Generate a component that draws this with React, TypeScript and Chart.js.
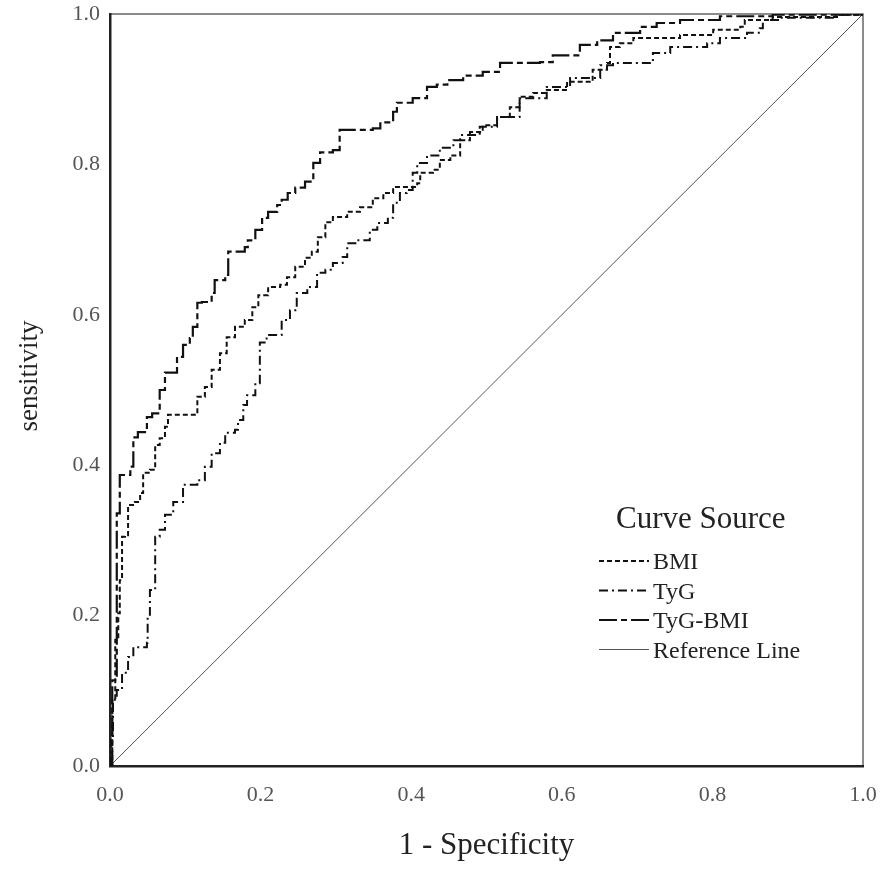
import { useEffect, useRef } from 'react';
import { Chart, registerables } from 'chart.js';

Chart.register(...registerables);

// ROC curves (x = 1 - specificity, y = sensitivity)
const seriesNames = ['BMI', 'TyG', 'TyG-BMI', 'Reference Line'];
const axisTicks = ['0.0', '0.2', '0.4', '0.6', '0.8', '1.0'];

const bmiFpr = [0, 0.003, 0.007, 0.011, 0.013, 0.016, 0.02, 0.024, 0.033, 0.04, 0.044, 0.053, 0.06, 0.066, 0.073, 0.077, 0.116, 0.126, 0.135, 0.146, 0.155, 0.166, 0.179, 0.189, 0.197, 0.21, 0.226, 0.235, 0.246, 0.259, 0.268, 0.276, 0.286, 0.296, 0.315, 0.332, 0.349, 0.363, 0.376, 0.408, 0.412, 0.429, 0.438, 0.452, 0.465, 0.478, 0.495, 0.514, 0.531, 0.544, 0.562, 0.58, 0.607, 0.641, 0.66, 0.664, 0.677, 0.695, 0.757, 0.801, 0.837, 0.843, 0.88, 0.969, 1];
const bmiTpr = [0, 0.088, 0.168, 0.203, 0.247, 0.305, 0.307, 0.347, 0.351, 0.363, 0.39, 0.394, 0.427, 0.436, 0.451, 0.467, 0.491, 0.504, 0.527, 0.549, 0.57, 0.584, 0.593, 0.61, 0.626, 0.637, 0.64, 0.65, 0.664, 0.676, 0.684, 0.703, 0.723, 0.73, 0.737, 0.743, 0.755, 0.762, 0.77, 0.775, 0.789, 0.793, 0.806, 0.812, 0.832, 0.843, 0.852, 0.863, 0.876, 0.89, 0.895, 0.899, 0.91, 0.926, 0.935, 0.956, 0.961, 0.968, 0.972, 0.979, 0.983, 0.992, 0.996, 0.999, 1];

const tygFpr = [0, 0.001, 0.004, 0.009, 0.016, 0.024, 0.031, 0.049, 0.05, 0.053, 0.06, 0.066, 0.073, 0.084, 0.097, 0.116, 0.126, 0.135, 0.146, 0.153, 0.166, 0.17, 0.177, 0.182, 0.193, 0.199, 0.208, 0.228, 0.239, 0.248, 0.262, 0.275, 0.286, 0.296, 0.309, 0.315, 0.328, 0.345, 0.355, 0.369, 0.376, 0.385, 0.394, 0.402, 0.408, 0.421, 0.438, 0.456, 0.465, 0.491, 0.514, 0.544, 0.58, 0.611, 0.651, 0.668, 0.721, 0.744, 0.793, 0.81, 0.846, 0.863, 0.867, 0.89, 0.96, 1];
const tygTpr = [0, 0.035, 0.088, 0.101, 0.124, 0.145, 0.158, 0.164, 0.201, 0.234, 0.305, 0.314, 0.334, 0.351, 0.374, 0.38, 0.398, 0.416, 0.43, 0.443, 0.447, 0.46, 0.48, 0.493, 0.509, 0.563, 0.573, 0.593, 0.606, 0.629, 0.637, 0.656, 0.66, 0.669, 0.677, 0.695, 0.699, 0.713, 0.722, 0.729, 0.749, 0.762, 0.766, 0.789, 0.802, 0.812, 0.822, 0.832, 0.839, 0.85, 0.863, 0.888, 0.903, 0.915, 0.932, 0.935, 0.948, 0.956, 0.961, 0.968, 0.975, 0.981, 0.992, 0.995, 0.999, 1];

const tygBmiFpr = [0, 0.003, 0.009, 0.013, 0.027, 0.031, 0.037, 0.049, 0.056, 0.064, 0.066, 0.073, 0.089, 0.097, 0.106, 0.11, 0.116, 0.122, 0.135, 0.139, 0.153, 0.157, 0.179, 0.183, 0.193, 0.202, 0.21, 0.222, 0.228, 0.236, 0.246, 0.259, 0.27, 0.279, 0.296, 0.305, 0.349, 0.359, 0.376, 0.381, 0.402, 0.421, 0.434, 0.448, 0.469, 0.495, 0.518, 0.571, 0.588, 0.624, 0.647, 0.668, 0.704, 0.726, 0.757, 0.81, 0.88, 1];
const tygBmiTpr = [0, 0.114, 0.336, 0.387, 0.398, 0.437, 0.444, 0.464, 0.469, 0.473, 0.5, 0.523, 0.544, 0.56, 0.569, 0.584, 0.616, 0.617, 0.629, 0.646, 0.653, 0.684, 0.69, 0.699, 0.713, 0.729, 0.737, 0.746, 0.753, 0.762, 0.769, 0.777, 0.802, 0.816, 0.819, 0.846, 0.848, 0.856, 0.87, 0.882, 0.888, 0.903, 0.906, 0.912, 0.918, 0.923, 0.935, 0.936, 0.945, 0.959, 0.965, 0.975, 0.983, 0.988, 0.992, 0.997, 0.999, 1];

const refX = [0, 1];
const refY = [0, 1];

const serif = "'Liberation Serif', 'Times New Roman', Times, serif";

const toPoints = (xs: number[], ys: number[]) => xs.map((x, i) => ({ x, y: ys[i] }));

// white page + thin box round the plot (top/right sides)
const framePlugin = {
    id: 'frame',
    beforeDraw(chart: any) {
        const { ctx, chartArea } = chart;
        ctx.save();
        ctx.fillStyle = '#fff';
        ctx.fillRect(0, 0, chart.width, chart.height);
        ctx.strokeStyle = '#666';
        ctx.lineWidth = 1.5;
        ctx.strokeRect(chartArea.left, chartArea.top, chartArea.right - chartArea.left, chartArea.bottom - chartArea.top);
        ctx.restore();
    },
    afterDraw(chart: any) {
        // y-axis title sits a little above the plot's middle in the original
        const { ctx, chartArea } = chart;
        ctx.save();
        ctx.translate(30, (chartArea.top + chartArea.bottom) / 2 - 14);
        ctx.rotate(-Math.PI / 2);
        ctx.fillStyle = '#222';
        ctx.font = `27px ${serif}`;
        ctx.textAlign = 'center';
        ctx.textBaseline = 'middle';
        ctx.fillText('sensitivity', 0, 0);
        ctx.restore();
    },
};

// "Curve Source" legend inside the plot, lower right
const legendPlugin = {
    id: 'curveSource',
    afterDraw(chart: any) {
        const { ctx } = chart;
        ctx.save();
        ctx.fillStyle = '#222';
        ctx.textBaseline = 'alphabetic';
        ctx.font = `31px ${serif}`;
        ctx.fillText('Curve Source', 616, 528);
        chart.data.datasets.forEach((ds: any, i: number) => {
            const y = 561 + i * 29.5;
            ctx.strokeStyle = ds.borderColor;
            ctx.lineWidth = ds.borderWidth;
            ctx.setLineDash(ds.borderDash || []);
            ctx.beginPath();
            ctx.moveTo(599, y);
            ctx.lineTo(649, y);
            ctx.stroke();
            ctx.setLineDash([]);
            ctx.font = `24px ${serif}`;
            ctx.fillText(ds.label, 653, y + 8);
        });
        ctx.restore();
    },
};

export default function App() {
    const canvasRef = useRef<HTMLCanvasElement>(null);

    useEffect(() => {
        const canvas = canvasRef.current;
        if (!canvas) return;
        const ctx = canvas.getContext('2d');
        if (!ctx) return;

        const chart = new Chart(ctx, {
            type: 'line',
            data: {
                datasets: [
                    { label: seriesNames[0], data: toPoints(bmiFpr, bmiTpr), borderColor: '#111', borderWidth: 2, borderDash: [5, 3], stepped: 'before' },
                    { label: seriesNames[1], data: toPoints(tygFpr, tygTpr), borderColor: '#111', borderWidth: 2, borderDash: [9, 4, 2, 4], stepped: 'before' },
                    { label: seriesNames[2], data: toPoints(tygBmiFpr, tygBmiTpr), borderColor: '#111', borderWidth: 2.2, borderDash: [18, 4, 6, 4], stepped: 'before' },
                    { label: seriesNames[3], data: toPoints(refX, refY), borderColor: '#555', borderWidth: 1 },
                ],
            },
            options: {
                animation: false,
                responsive: false,
                layout: { padding: { top: 14, right: 23, left: 0, bottom: 0 } },
                elements: { point: { radius: 0 }, line: { tension: 0 } },
                plugins: { legend: { display: false }, tooltip: { enabled: false } },
                scales: {
                    x: {
                        type: 'linear',
                        min: 0,
                        max: 1,
                        afterFit: (s: any) => {
                            s.height = 109;
                            s.paddingLeft = 0;
                            s.paddingRight = 0;
                        },
                        grid: { display: false, drawTicks: false, tickLength: 0 },
                        border: { display: true, color: '#222', width: 2.5 },
                        ticks: {
                            stepSize: 0.2,
                            autoSkip: false,
                            maxRotation: 0,
                            padding: 16,
                            color: '#555',
                            font: { family: serif, size: 22 },
                            callback: (_v: any, i: number) => axisTicks[i],
                        },
                        title: { display: true, text: '1 - Specificity', color: '#222', font: { family: serif, size: 31 }, padding: { top: 0, bottom: 11 } },
                    },
                    y: {
                        type: 'linear',
                        min: 0,
                        max: 1,
                        afterFit: (s: any) => {
                            s.width = 110;
                            s.paddingTop = 0;
                            s.paddingBottom = 0;
                        },
                        grid: { display: false, drawTicks: false, tickLength: 0 },
                        border: { display: true, color: '#222', width: 2.5 },
                        ticks: {
                            stepSize: 0.2,
                            autoSkip: false,
                            padding: 10,
                            color: '#555',
                            font: { family: serif, size: 22 },
                            callback: (_v: any, i: number) => axisTicks[i],
                        },
                        title: { display: false, text: 'sensitivity' },
                    },
                },
            },
            plugins: [framePlugin, legendPlugin],
        });

        return () => {
            chart.destroy();
        };
    }, []);

    return (
        <div style={{ position: 'absolute', left: 0, top: 0, width: 886, height: 875 }}>
            <canvas ref={canvasRef} width={886} height={875} style={{ display: 'block' }} />
        </div>
    );
}
